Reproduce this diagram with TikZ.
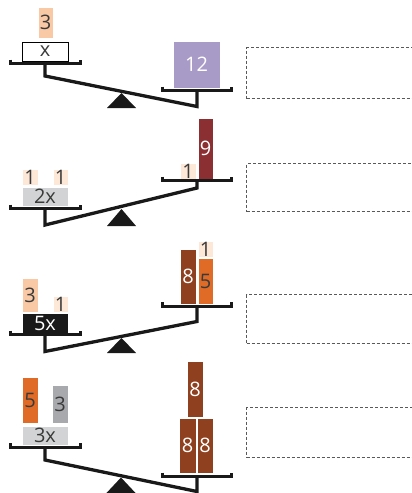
\documentclass[tikz,border=0pt]{standalone}
\usepackage{fontspec}
\setmainfont{Open Sans}
\definecolor{peach}{HTML}{F9C9A6}
\definecolor{lpeach}{HTML}{FDE8D8}
\definecolor{purp}{HTML}{A99BC7}
\definecolor{dred}{HTML}{8C2F32}
\definecolor{brwn}{HTML}{8E401F}
\definecolor{orng}{HTML}{E06B26}
\definecolor{lgrey}{HTML}{D1D3D4}
\definecolor{mgrey}{HTML}{A7A9AC}
\definecolor{txt}{HTML}{3A3A3A}
\newcommand\blkbox[7]{\node[blk,#6,minimum width={(#4-#2)*1pt},minimum height={(#5-#3)*1pt},anchor=north west] (#1) at (#2,#3) {#7};}
\begin{document}
\begin{tikzpicture}[x=1pt,y=-1pt,
  blk/.style={inner sep=0pt,outer sep=0pt,draw=white,line width=0.6pt,text=txt,font=\fontsize{20}{20}\selectfont},
  lighttxt/.style={text=white},
  pan/.style={line width=3pt,line join=miter,draw=black!90},
  beam/.style={line width=3.3pt,line join=miter,draw=black!90},
  fulcrum/.style={fill=black!90},
  answer/.style={draw=black!65,dashed,dash pattern=on 3pt off 2pt,line width=1.1pt}]
\useasboundingbox (0,0) rectangle (412,493);
\clip (0,0) rectangle (412,493);
% ---------- panel 1
\blkbox{p1a}{38}{7}{53}{38}{fill=peach}{3}
\blkbox{p1x}{22}{42}{68}{61}{fill=white,draw=black,line width=0.9pt}{x}
\blkbox{p1b}{173}{41}{220}{88}{fill=purp,lighttxt}{12}
\fill[fulcrum] (121.5,93) -- (136,108) -- (107,108) -- cycle;
\draw[pan] (10,59.5) -- (10,63.5) -- (80,63.5) -- (80,59.5);
\draw[pan] (162,86.5) -- (162,90.5) -- (231,90.5) -- (231,86.5);
\draw[beam] (45,63.5) -- (45,76) -- (197,106.5) -- (197,90.5);
\node[answer,minimum width=168pt,minimum height=51pt,anchor=north west,inner sep=0pt] (a1) at (246,47) {};
% ---------- panel 2
\blkbox{p2a}{22}{169}{38}{185}{fill=lpeach}{1}
\blkbox{p2b}{53}{169}{68}{185}{fill=lpeach}{1}
\blkbox{p2x}{22}{187}{68}{206}{fill=lgrey}{2x}
\blkbox{p2c}{180}{163}{196}{179}{fill=lpeach}{1}
\blkbox{p2d}{198}{118}{213}{179}{fill=dred,lighttxt}{9}
\fill[fulcrum] (121.5,209) -- (136,226) -- (107,226) -- cycle;
\draw[pan] (10,204.5) -- (10,208.5) -- (80,208.5) -- (80,204.5);
\draw[pan] (162,176.5) -- (162,180.5) -- (231,180.5) -- (231,176.5);
\draw[beam] (45,208.5) -- (45,225) -- (197,188) -- (197,180.5);
\node[answer,minimum width=168pt,minimum height=48pt,anchor=north west,inner sep=0pt] (a2) at (246,163) {};
% ---------- panel 3
\blkbox{p3a}{22}{278}{38}{312}{fill=peach}{3}
\blkbox{p3b}{53}{296}{68}{312}{fill=lpeach}{1}
\blkbox{p3x}{22}{313}{68}{333}{fill=black!90,lighttxt}{5x}
\blkbox{p3c}{180}{249}{196}{304}{fill=brwn,lighttxt}{8}
\blkbox{p3d}{198}{258}{213}{304}{fill=orng}{5}
\blkbox{p3e}{198}{241}{213}{257}{fill=lpeach}{1}
\fill[fulcrum] (121.5,338) -- (136,353) -- (107,353) -- cycle;
\draw[pan] (10,330.5) -- (10,334.5) -- (80,334.5) -- (80,330.5);
\draw[pan] (162,302) -- (162,306) -- (231,306) -- (231,302);
\draw[beam] (45,334.5) -- (45,351.5) -- (197,321.5) -- (197,306);
\node[answer,minimum width=168pt,minimum height=49pt,anchor=north west,inner sep=0pt] (a3) at (246,294) {};
% ---------- panel 4
\blkbox{p4a}{22}{377}{38}{423}{fill=orng}{5}
\blkbox{p4b}{52}{385}{68}{423}{fill=mgrey}{3}
\blkbox{p4x}{22}{426}{68}{445}{fill=lgrey}{3x}
\blkbox{p4c}{187}{361}{203}{417}{fill=brwn,lighttxt}{8}
\blkbox{p4d}{179}{418}{196}{473}{fill=brwn,lighttxt}{8}
\blkbox{p4e}{197}{418}{213}{473}{fill=brwn,lighttxt}{8}
\fill[fulcrum] (121,477.5) -- (136,493.5) -- (106,493.5) -- cycle;
\draw[pan] (10,443) -- (10,447) -- (80,447) -- (80,443);
\draw[pan] (162,472.5) -- (162,476.5) -- (231,476.5) -- (231,472.5);
\draw[beam] (45,447) -- (45,460) -- (197,491.5) -- (197,476.5);
\node[answer,minimum width=168pt,minimum height=50pt,anchor=north west,inner sep=0pt] (a4) at (246,407) {};
\end{tikzpicture}
\end{document}
